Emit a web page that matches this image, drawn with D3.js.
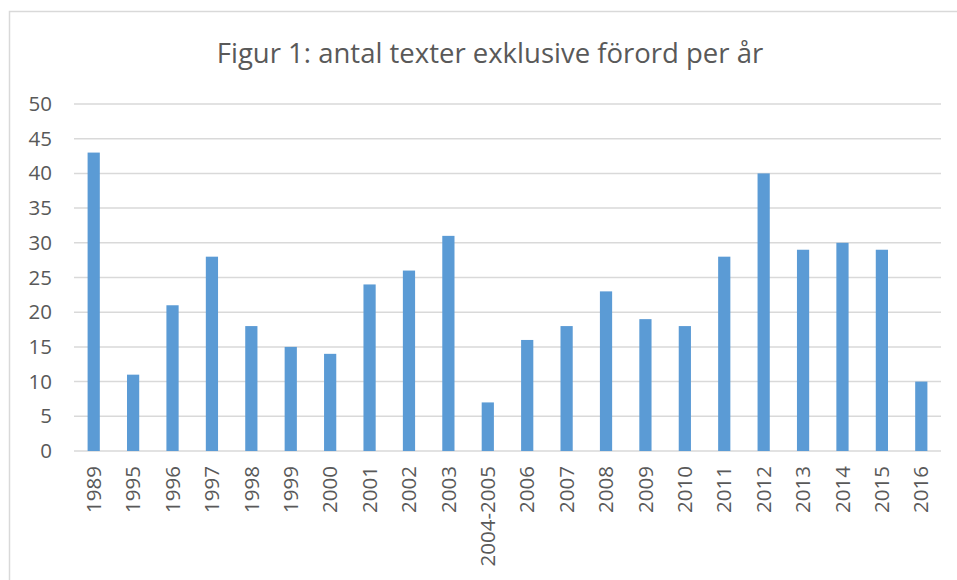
<!DOCTYPE html>
<html lang="sv">
<head>
<meta charset="UTF-8">
<title>Figur 1</title>
<script src="https://cdnjs.cloudflare.com/ajax/libs/d3/7.8.5/d3.min.js"></script>
<style>
  body { margin: 0; background: #fff; }
  svg { display: block; font-family: "Open Sans", sans-serif; }
  .grid line { stroke: #d9d9d9; stroke-width: 1.5; }
  .tick text { fill: #595959; }
</style>
</head>
<body>
<svg width="957" height="580"></svg>
<script>
// data
const years = ["1989", "1995", "1996", "1997", "1998", "1999", "2000", "2001", "2002", "2003",
  "2004-2005", "2006", "2007", "2008", "2009", "2010", "2011", "2012", "2013", "2014", "2015", "2016"];
const counts = [43, 11, 21, 28, 18, 15, 14, 24, 26, 31, 7, 16, 18, 23, 19, 18, 28, 40, 29, 30, 29, 10];
const yTicks = [0, 5, 10, 15, 20, 25, 30, 35, 40, 45, 50];
const title = "Figur 1: antal texter exklusive förord per år";

const svg = d3.select("svg");

// chart border (left/top only visible in the frame)
svg.append("rect")
  .attr("x", 9.5).attr("y", 11.5)
  .attr("width", 1200).attr("height", 1200)
  .attr("fill", "none").attr("stroke", "#d9d9d9").attr("stroke-width", 1.5);

const plot = { left: 74, right: 941, top: 104, bottom: 451 };

const x = d3.scaleBand().domain(years).range([plot.left, plot.right]).paddingInner(0.69).paddingOuter(0.345);
const y = d3.scaleLinear().domain([0, 50]).range([plot.bottom, plot.top]);

// gridlines
svg.append("g").attr("class", "grid")
  .selectAll("line").data(yTicks).join("line")
  .attr("x1", plot.left).attr("x2", plot.right)
  .attr("y1", d => y(d)).attr("y2", d => y(d));

// bars
svg.append("g").selectAll("rect")
  .data(years.map((yr, i) => ({ yr, v: counts[i] })))
  .join("rect")
  .attr("x", d => x(d.yr))
  .attr("width", x.bandwidth())
  .attr("y", d => y(d.v))
  .attr("height", d => y(0) - y(d.v))
  .attr("fill", "#5b9bd5");

// y axis labels
const yAxis = svg.append("g")
  .attr("transform", `translate(${plot.left - 22},0)`)
  .call(d3.axisLeft(y).tickValues(yTicks).tickSize(0).tickPadding(0));
yAxis.select(".domain").remove();
yAxis.selectAll("text").attr("font-size", 20.5).attr("font-family", "Open Sans");

// x axis labels, rotated
const xAxis = svg.append("g")
  .attr("transform", `translate(0,${plot.bottom})`)
  .call(d3.axisBottom(x).tickSize(0));
xAxis.select(".domain").remove();
xAxis.selectAll("text")
  .attr("font-size", 20.5).attr("font-family", "Open Sans")
  .attr("transform", "rotate(-90)")
  .attr("text-anchor", "end")
  .attr("x", -15).attr("y", 0).attr("dy", "0.35em");

// title
svg.append("text")
  .attr("x", 490).attr("y", 63)
  .attr("text-anchor", "middle")
  .attr("font-size", 27.5)
  .attr("fill", "#595959")
  .text(title);
</script>
</body>
</html>
